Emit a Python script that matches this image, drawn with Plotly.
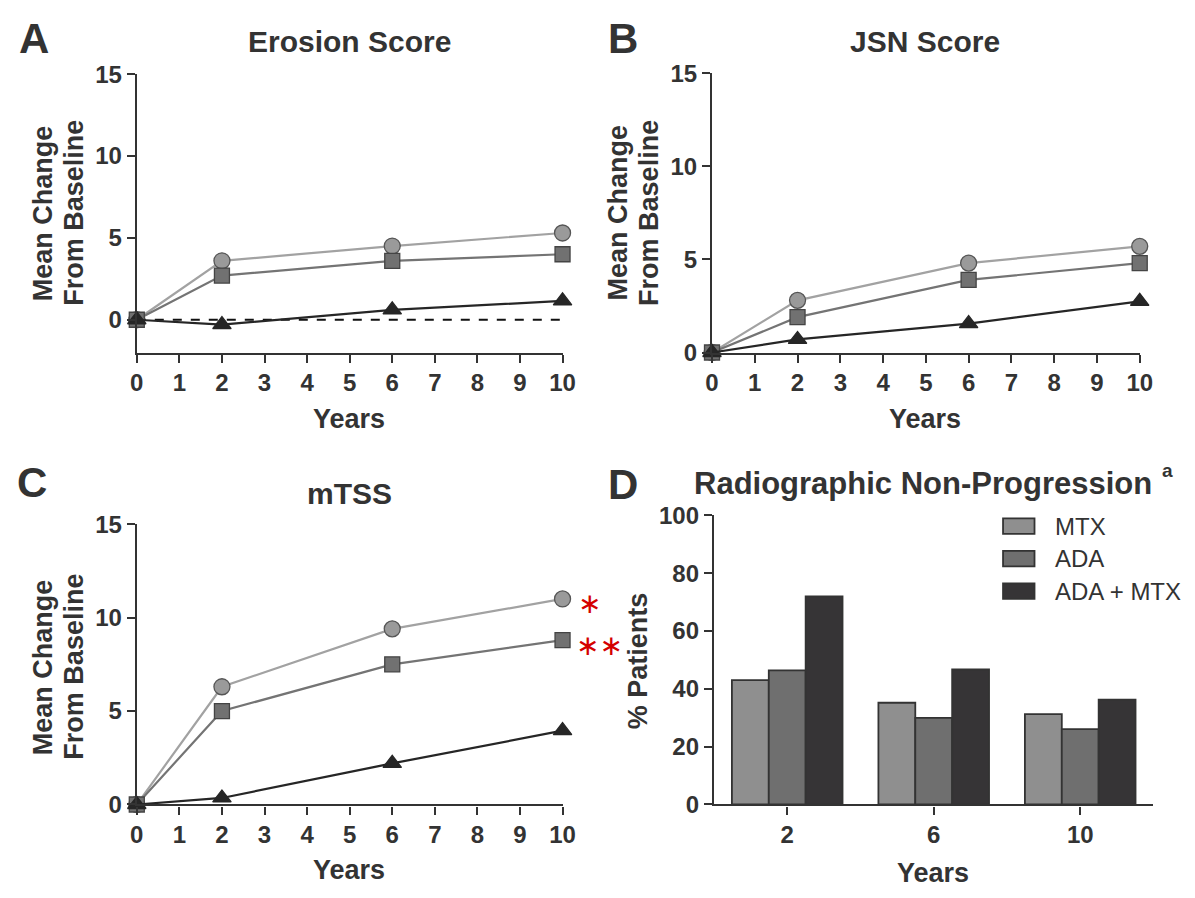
import plotly.graph_objects as go

# ---- data -------------------------------------------------------------
years = [0, 2, 6, 10]

erosion_mtx = [0, 3.6, 4.5, 5.3]
erosion_ada = [0, 2.7, 3.6, 4.0]
erosion_combo = [0, -0.3, 0.6, 1.15]

jsn_mtx = [0, 2.8, 4.8, 5.7]
jsn_ada = [0, 1.9, 3.9, 4.8]
jsn_combo = [0, 0.7, 1.55, 2.75]

mtss_mtx = [0, 6.3, 9.4, 11.0]
mtss_ada = [0, 5.0, 7.5, 8.8]
mtss_combo = [0, 0.35, 2.2, 3.95]

np_years = ["2", "6", "10"]
np_mtx = [43, 35.2, 31.3]
np_ada = [46.4, 30, 26.1]
np_combo = [72, 46.7, 36.3]

groups = ["MTX", "ADA", "ADA + MTX"]

# ---- style ------------------------------------------------------------
W, H = 1195, 898
INK = "#333333"
FONT = "Liberation Sans, Arial, Helvetica, sans-serif"

line_style = {
    "MTX": dict(line="#a2a2a2", fill="#9a9a9a", edge="#555555", symbol="circle", size=16),
    "ADA": dict(line="#747474", fill="#717171", edge="#444444", symbol="square", size=15),
    "ADA + MTX": dict(line="#262626", fill="#262626", edge="#262626", symbol="triangle-up", size=16),
}
bar_fill = {"MTX": "#8f8f8f", "ADA": "#6f6f6f", "ADA + MTX": "#363436"}


def px(x, y):
    """pixel position on the page -> paper coordinates"""
    return x / W, 1 - y / H


def dom_x(a, b):
    return [a / W, b / W]


def dom_y(top, bottom):
    return [1 - bottom / H, 1 - top / H]


fig = go.Figure()

# zero reference in the erosion panel (drawn first so it sits underneath)
fig.add_trace(go.Scatter(
    x=[years[0], years[-1]], y=[0, 0], xaxis="x", yaxis="y", mode="lines",
    showlegend=False, line=dict(color="#111111", width=1.8, dash="dash"),
))

line_panels = [
    ("x", "y", [erosion_mtx, erosion_ada, erosion_combo]),
    ("x2", "y2", [jsn_mtx, jsn_ada, jsn_combo]),
    ("x3", "y3", [mtss_mtx, mtss_ada, mtss_combo]),
]

for xa, ya, series in line_panels:
    for name, vals in zip(groups, series):
        s = line_style[name]
        fig.add_trace(go.Scatter(
            x=years, y=vals, xaxis=xa, yaxis=ya, mode="lines+markers",
            name=name, showlegend=False, cliponaxis=False,
            line=dict(color=s["line"], width=2.2),
            marker=dict(symbol=s["symbol"], size=s["size"], color=s["fill"],
                        line=dict(color=s["edge"], width=1.3)),
        ))

for name, vals in zip(groups, [np_mtx, np_ada, np_combo]):
    fig.add_trace(go.Bar(
        x=np_years, y=vals, xaxis="x4", yaxis="y4", name=name, showlegend=False,
        marker=dict(color=bar_fill[name], line=dict(color=INK, width=1.8)),
    ))

axis_common = dict(
    showgrid=False, zeroline=False, showline=True, linecolor=INK, linewidth=2.2,
    ticks="outside", ticklen=8, tickwidth=2.2, tickcolor=INK,
    tickfont=dict(family=FONT, size=24, color=INK, weight="bold"),
)


def xline(domain, anchor):
    return dict(axis_common, domain=domain, anchor=anchor, range=[0, 10],
                tickvals=list(range(11)))


def yline(domain, anchor, lo):
    return dict(axis_common, domain=domain, anchor=anchor, range=[lo, 15],
                tickvals=[0, 5, 10, 15])


fig.update_layout(
    width=W, height=H, margin=dict(l=0, r=0, t=0, b=0),
    paper_bgcolor="white", plot_bgcolor="white",
    barmode="group", bargap=0.245, bargroupgap=0,
    xaxis=xline(dom_x(132, 565), "y"),
    yaxis=yline(dom_y(62, 349), "x", -2),
    xaxis2=xline(dom_x(717, 1152), "y2"),
    yaxis2=yline(dom_y(61, 349), "x2", 0),
    xaxis3=xline(dom_x(132, 565), "y3"),
    yaxis3=yline(dom_y(526, 815), "x3", 0),
    xaxis4=dict(axis_common, domain=dom_x(719, 1166), anchor="y4",
                type="category", range=[-0.5, 2.5]),
    yaxis4=dict(axis_common, domain=dom_y(517, 815), anchor="x4",
                range=[0, 100], tickvals=[0, 20, 40, 60, 80, 100]),
)

annotations = []


def text(x, y, s, size, weight="bold", color=INK, family=FONT, angle=0,
         xanchor="center", yanchor="middle"):
    ax, ay = px(x, y)
    annotations.append(dict(
        x=ax, y=ay, xref="paper", yref="paper", text=s, showarrow=False,
        xanchor=xanchor, yanchor=yanchor, textangle=angle,
        font=dict(family=family, size=size, color=color, weight=weight),
    ))


# panel letters
text(27, 25, "A", 42)
text(626, 25, "B", 42)
text(25, 483, "C", 42)
text(626, 485, "D", 42)

# panel titles
text(348, 28, "Erosion Score", 30)
text(934, 28, "JSN Score", 30)
text(348, 494, "mTSS", 30)
text(932, 484, "Radiographic Non-Progression", 31)
text(1180, 471, "a", 19)

# axis titles
text(348, 418, "Years", 27)
text(934, 418, "Years", 27)
text(348, 883, "Years", 27)
text(942, 886, "Years", 27)
for x0, cy in [(36, 205), (621, 205), (36, 673)]:
    text(x0, cy, "Mean Change", 27, angle=-90)
    text(x0 + 32, cy, "From Baseline", 27, angle=-90)
text(642, 667, "% Patients", 27, angle=-90)

# significance marks in the mTSS panel
text(592, 608, "∗", 28, weight="normal", color="#d40000", family="DejaVu Sans")
text(603, 651, "∗∗", 28, weight="normal", color="#d40000", family="DejaVu Sans")

# legend for the bar panel
shapes = []
for i, name in enumerate(groups):
    cy = 528 + i * 33.5
    x0, y0 = px(1013, cy - 8)
    x1, y1 = px(1045, cy + 8)
    shapes.append(dict(type="rect", xref="paper", yref="paper",
                       x0=x0, x1=x1, y0=y1, y1=y0,
                       fillcolor=bar_fill[name], line=dict(color=INK, width=1.8)))
    text(1064, cy, name, 24, weight="normal", xanchor="left")

fig.update_layout(annotations=annotations, shapes=shapes)

fig.write_html("out.html")
